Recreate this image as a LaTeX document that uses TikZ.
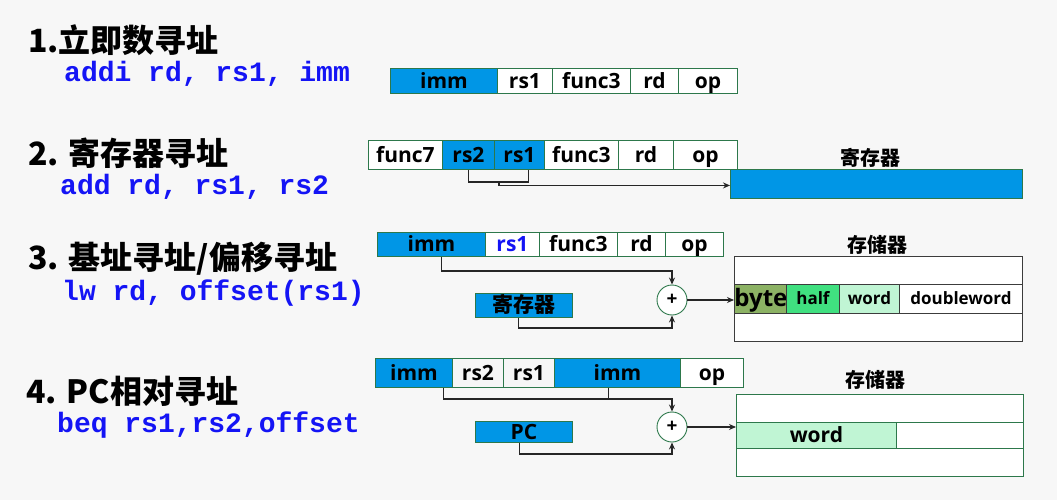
\documentclass[tikz,border=0pt]{standalone}
\usepackage{fontspec}
\setmainfont{Open Sans}
\newfontfamily\cjk{Noto Sans CJK SC}
\newfontfamily\code{Liberation Mono}
\usetikzlibrary{arrows.meta}
\definecolor{fblue}{RGB}{0,150,230}
\definecolor{bgreen}{RGB}{45,120,75}
\definecolor{cblue}{RGB}{20,20,245}
\definecolor{bgc}{RGB}{247,247,247}
\definecolor{byteg}{RGB}{140,178,100}
\definecolor{halfg}{RGB}{64,224,128}
\definecolor{wordg}{RGB}{192,245,212}
\definecolor{rowgray}{RGB}{246,246,246}
\definecolor{memgray}{RGB}{60,60,60}
\begin{document}
\begin{tikzpicture}[x=1pt,y=-1pt,
 fld/.style={draw=bgreen, line width=0.9pt, anchor=north west, inner sep=0pt, font=\bfseries\fontsize{21}{24}\selectfont, text=black, fill=white, text height=17pt, text depth=2pt},
 bl/.style={fill=fblue},
 head/.style={anchor=west, font=\cjk\bfseries\fontsize{32}{38}\selectfont, inner sep=0pt},
 codet/.style={anchor=west, font=\code\bfseries\fontsize{28}{32}\selectfont, text=cblue, inner sep=0pt},
 lbl/.style={font=\cjk\bfseries\fontsize{20}{24}\selectfont, inner sep=0pt},
 wire/.style={line width=1.3pt, black!85},
 arr/.style={wire, -{Stealth[length=7pt,width=6pt]}},
 adder/.style={circle, draw=bgreen, line width=0.9pt, fill=white, minimum size=30pt, inner sep=0pt, font=\bfseries\fontsize{19}{20}\selectfont},
 mcell/.style={draw=memgray, line width=0.9pt, anchor=north west, inner sep=0pt, fill=white, font=\bfseries\fontsize{17}{20}\selectfont, text height=14pt, text depth=2pt},
 gcell/.style={mcell, draw=bgreen}
]
\useasboundingbox (0,0) rectangle (1057,500);
\fill[bgc] (0,0) rectangle (1057,500);

% headings
\node[head] (h1) at (28,40) {1.立即数寻址};
\node[codet] (c1) at (64,74) {addi rd, rs1, imm};
\node[head] (h2) at (28,153) {2. 寄存器寻址};
\node[codet] (c2) at (60,187) {add rd, rs1, rs2};
\node[head] (h3) at (28,259) {3. 基址寻址/偏移寻址};
\node[codet] (c3) at (62,293) {lw rd, offset(rs1)};
\node[head] (h4) at (26,391) {4. PC相对寻址};
\node[codet] (c4) at (57,425) {beq rs1,rs2,offset};

% row 1
\node[fld,bl,minimum width=107pt,minimum height=25pt] (r1imm) at (390,68) {imm};
\node[fld,minimum width=55pt,minimum height=25pt] (r1rs1) at (497,68) {rs1};
\node[fld,minimum width=78pt,minimum height=25pt] (r1f3) at (552,68) {func3};
\node[fld,minimum width=48pt,minimum height=25pt] (r1rd) at (630,68) {rd};
\node[fld,minimum width=59pt,minimum height=25pt] (r1op) at (678,68) {op};

% row 2
\node[fld,minimum width=74pt,minimum height=29pt] (r2f7) at (368,140) {func7};
\node[fld,bl,minimum width=52pt,minimum height=29pt] (r2rs2) at (442,140) {rs2};
\node[fld,bl,minimum width=50pt,minimum height=29pt] (r2rs1) at (494,140) {rs1};
\node[fld,minimum width=74pt,minimum height=29pt] (r2f3) at (544,140) {func3};
\node[fld,minimum width=55pt,minimum height=29pt] (r2rd) at (618,140) {rd};
\node[fld,minimum width=64pt,minimum height=29pt] (r2op) at (673,140) {op};
\node[fld,bl,minimum width=292pt,minimum height=29pt] (reg2) at (730,169) {};
\node[lbl] (reg2l) at (870,158) {寄存器};
\draw[wire] (r2rs2.south) -- ++(0,12) -| ([xshift=9pt]r2rs1.south);
\draw[arr] ([shift={(4,12)}]r2rs2.south east) |- ([yshift=-1.5pt]reg2.west);

% row 3
\node[fld,bl,minimum width=108pt,minimum height=24pt] (r3imm) at (377,232) {imm};
\node[fld,minimum width=54pt,minimum height=24pt,text=cblue] (r3rs1) at (485,232) {rs1};
\node[fld,minimum width=78pt,minimum height=24pt] (r3f3) at (539,232) {func3};
\node[fld,minimum width=48pt,minimum height=24pt] (r3rd) at (617,232) {rd};
\node[fld,minimum width=58pt,minimum height=24pt] (r3op) at (665,232) {op};
\node[adder] (add3) at (672,300) {+};
\node[fld,bl,minimum width=97pt,minimum height=24pt,font=\cjk\bfseries\fontsize{21}{24}\selectfont] (reg3) at (475,293) {寄存器};
\draw[arr] ([xshift=10pt]r3imm.south) -- ++(0,14) -| (add3.north);
\draw[arr] ([xshift=-5.5pt]reg3.south) -- ++(0,10) -| (add3.south);
\node[lbl] (mem3l) at (877,245) {存储器};
\node[mcell,minimum width=288pt,minimum height=28pt] (m3top) at (734,256) {};
\node[mcell,fill=byteg,minimum width=52pt,minimum height=29pt,font=\bfseries\fontsize{24}{26}\selectfont,text height=19pt,text depth=4pt] (m3byte) at (734,284) {byte};
\node[mcell,fill=halfg,minimum width=53pt,minimum height=29pt] (m3half) at (786,284) {half};
\node[mcell,fill=wordg,minimum width=60pt,minimum height=29pt] (m3word) at (839,284) {word};
\node[mcell,minimum width=123pt,minimum height=29pt] (m3dw) at (899,284) {doubleword};
\node[mcell,minimum width=288pt,minimum height=28pt] (m3bot) at (734,313) {};
\draw[arr] (add3.east) -- (add3.east -| m3byte.west);

% row 4
\node[fld,bl,minimum width=77pt,minimum height=29pt] (r4imm1) at (375,358) {imm};
\node[fld,fill=rowgray,minimum width=51pt,minimum height=29pt] (r4rs2) at (452,358) {rs2};
\node[fld,fill=rowgray,minimum width=51pt,minimum height=29pt] (r4rs1) at (503,358) {rs1};
\node[fld,bl,minimum width=126pt,minimum height=29pt] (r4imm2) at (554,358) {imm};
\node[fld,minimum width=63pt,minimum height=29pt] (r4op) at (680,358) {op};
\node[adder] (add4) at (672,427) {+};
\node[fld,bl,minimum width=97pt,minimum height=21pt] (pc) at (475,421) {PC};
\draw[arr] ([xshift=29.5pt]r4imm1.south) -- ++(0,11) coordinate (j4) -| (add4.north);
\draw[wire] ([xshift=-9pt]r4imm2.south) |- (j4);
\draw[arr] ([xshift=-4.5pt]pc.south) -- ++(0,11) -| (add4.south);
\node[lbl] (mem4l) at (875,380) {存储器};
\node[gcell,minimum width=287pt,minimum height=28pt] (m4top) at (736,394) {};
\node[gcell,fill=wordg,minimum width=160pt,minimum height=26pt,font=\bfseries\fontsize{21}{24}\selectfont,text height=16pt,text depth=2pt] (m4word) at (736,422) {word};
\node[gcell,minimum width=127pt,minimum height=26pt] (m4rest) at (896,422) {};
\node[gcell,minimum width=287pt,minimum height=28pt] (m4bot) at (736,448) {};
\draw[arr] (add4.east) -- (add4.east -| m4word.west);
\end{tikzpicture}
\end{document}
